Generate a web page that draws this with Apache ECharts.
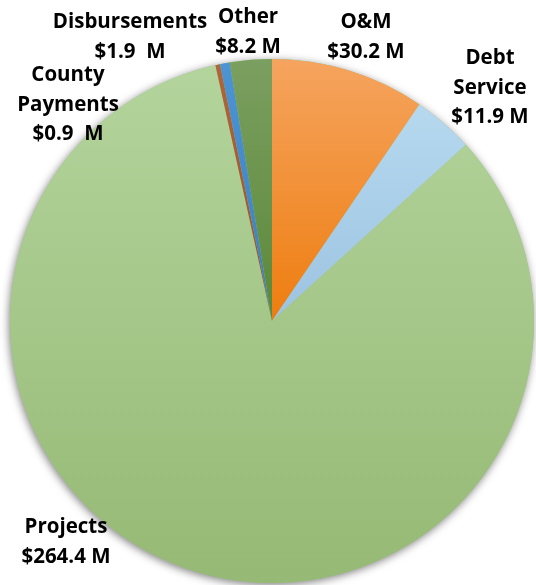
<!DOCTYPE html>
<html style="height: 100%">
  <head>
    <meta charset="utf-8" />
    <title>Spending</title>
    <script src="https://cdn.jsdelivr.net/npm/echarts@6/dist/echarts.min.js"></script>
  </head>
  <body style="height: 100%; margin: 0; background: #fff">
    <div id="container" style="width: 536px; height: 585px"></div>

    <script type="text/javascript">
      // data, clockwise from 12 o'clock
      var categories = ['O&M', 'Debt\nService', 'Projects', 'County\nPayments', 'Disbursements', 'Other'];
      var values = [30.2, 11.9, 264.4, 0.9, 1.9, 8.2];
      var valueLabels = ['$30.2 M', '$11.9 M', '$264.4 M', '$0.9  M', '$1.9  M', '$8.2 M'];

      // gradient colours (top, bottom) per slice
      var sliceColors = [
        ['#f5a45f', '#ee7d0f'],
        ['#b6d9ef', '#9cc3e1'],
        ['#b3d49c', '#96b975'],
        ['#b0653a', '#9c4f22'],
        ['#4d94d4', '#3b7fc0'],
        ['#7b9f60', '#5b8839']
      ];
      // where the labels sit (centre of the text block)
      var labelPos = [
        [366, 37], [490, 88], [66, 542], [68, 105], [130, 37], [248, 32]
      ];

      var dom = document.getElementById('container');
      var myChart = echarts.init(dom);

      var total = 0;
      values.forEach(function (v) { total += v; });

      var data = values.map(function (v, i) {
        return {
          name: categories[i],
          value: v,
          itemStyle: {
            color: new echarts.graphic.LinearGradient(0, 0, 0, 1, [
              { offset: 0, color: sliceColors[i][0] },
              { offset: 1, color: sliceColors[i][1] }
            ])
          }
        };
      });

      myChart.setOption({
        backgroundColor: '#fff',
        animation: false,
        series: [
          {
            // shadow disc under the pie
            type: 'pie',
            silent: true,
            center: [272, 321],
            radius: 262,
            startAngle: 90,
            label: { show: false },
            labelLine: { show: false },
            data: [{
              value: total,
              itemStyle: {
                color: '#9fc283',
                shadowBlur: 9,
                shadowOffsetX: -1,
                shadowOffsetY: 2,
                shadowColor: 'rgba(0,0,0,0.5)'
              }
            }]
          },
          {
            type: 'pie',
            center: [272, 321],
            radius: 262,
            startAngle: 90,
            clockwise: true,
            avoidLabelOverlap: false,
            data: data,
            label: {
              show: true,
              position: 'outside',
              color: '#000',
              fontFamily: 'Open Sans',
              fontWeight: 'bold',
              fontSize: 20.5,
              lineHeight: 29.5,
              align: 'center',
              formatter: function (p) {
                return p.name + '\n' + valueLabels[p.dataIndex];
              }
            },
            labelLine: { show: false },
            labelLayout: function (params) {
              var pos = labelPos[params.dataIndex];
              return {
                x: pos[0],
                y: pos[1],
                align: 'center',
                verticalAlign: 'middle',
                hideOverlap: false
              };
            }
          }
        ]
      });
    </script>
  </body>
</html>
